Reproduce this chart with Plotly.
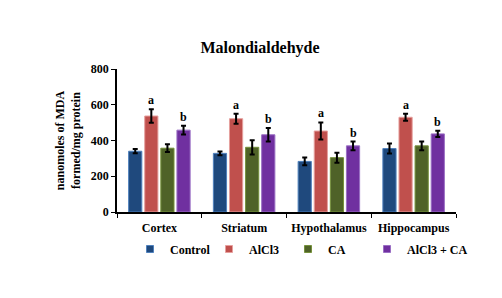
import plotly.graph_objects as go

categories = ["Cortex", "Striatum", "Hypothalamus", "Hippocampus"]
series_names = ["Control", "AlCl3", "CA", "AlCl3 + CA"]
control = [340, 328, 283, 355]
control_err = [12, 10, 22, 28]
alcl3 = [537, 522, 453, 530]
alcl3_err = [38, 28, 48, 20]
ca = [357, 362, 304, 370]
ca_err = [22, 40, 28, 24]
alcl3_ca = [458, 432, 370, 437]
alcl3_ca_err = [24, 38, 24, 18]
sig_labels = {"AlCl3": "a", "AlCl3 + CA": "b"}

colors = ["#1F497D", "#C0504D", "#4F6228", "#7030A0"]
edges = ["#4F81BD", "#E6A09E", "#76923C", "#9A6FC4"]
values = [control, alcl3, ca, alcl3_ca]
errs = [control_err, alcl3_err, ca_err, alcl3_ca_err]

FONT = "Liberation Serif"
fig = go.Figure()
for name, v, e, c, ec in zip(series_names, values, errs, colors, edges):
    fig.add_trace(go.Bar(
        name=name, x=categories, y=v, showlegend=False,
        marker=dict(color=c, line=dict(color=ec, width=1)),
        error_y=dict(type="data", array=e, color="black", thickness=2, width=2.5),
    ))

# one small legend per series, evenly spaced like the original
legend_ids = ["legend", "legend2", "legend3", "legend4"]
legend_layout = {}
for k, (name, c, ec, lid) in enumerate(zip(series_names, colors, edges, legend_ids)):
    fig.add_trace(go.Scatter(
        name=name, x=[None], y=[None], mode="markers", legend=lid,
        marker=dict(symbol="square", size=7, color=c, line=dict(color=ec, width=1)),
    ))
    legend_layout[lid] = dict(
        orientation="h", xref="container", yref="container",
        x=(130 + 79 * k) / 502, xanchor="left", y=1 - 249 / 298, yanchor="middle",
        font=dict(family=FONT, size=12, color="black", weight="bold"),
        itemwidth=30, bgcolor="rgba(0,0,0,0)")

bargap = 0.24
plot_left, plot_right = 117, 456
group_px = (plot_right - plot_left) / len(categories)
slot = group_px * (1 - bargap) / len(series_names)
for i, name in enumerate(series_names):
    if name in sig_labels:
        shift = (i - (len(series_names) - 1) / 2) * slot
        for cat, v, e in zip(categories, values[i], errs[i]):
            fig.add_annotation(x=cat, y=v + e, text="<b>%s</b>" % sig_labels[name],
                               showarrow=False, xshift=shift, yshift=9,
                               font=dict(family=FONT, size=12, color="black"))

fig.update_layout(
    width=502, height=298,
    margin=dict(l=117, r=46, t=69, b=86, autoexpand=False),
    paper_bgcolor="white", plot_bgcolor="white",
    barmode="group", bargap=bargap, bargroupgap=0.18,
    title=dict(text="<b>Malondialdehyde</b>", x=0.518, xanchor="center",
               y=1 - 47 / 298, yanchor="middle",
               font=dict(family=FONT, size=16, color="black")),
    font=dict(family=FONT, size=12, color="black"),
    showlegend=True,
    xaxis=dict(showline=True, linecolor="black", linewidth=1.5, ticks="outside",
               tickson="boundaries", ticklen=4, tickcolor="black", ticklabelstandoff=4,
               tickfont=dict(family=FONT, size=12, color="black", weight="bold"),
               showgrid=False),
    yaxis=dict(range=[0, 800], tickvals=[0, 200, 400, 600, 800], showline=True,
               linecolor="black", linewidth=1.5, ticks="outside", ticklen=4,
               tickcolor="black", showgrid=False, zeroline=False,
               tickfont=dict(family=FONT, size=12, color="black", weight="bold"),
               title=dict(text="<b>nanomoles of MDA<br>formed/mg protein</b>", standoff=8,
                          font=dict(family=FONT, size=12, color="black"))),
    **legend_layout,
)
fig.write_html("out.html", config={"displayModeBar": False},
               post_script="document.body.style.margin='0';")
